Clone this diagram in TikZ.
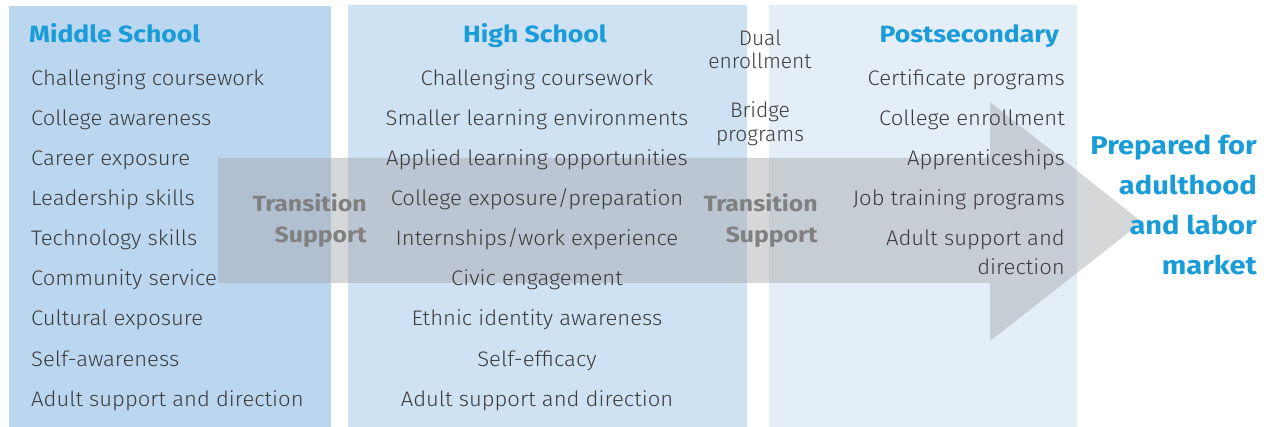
\documentclass[tikz,border=0pt]{standalone}
\usepackage{fontspec}
\setmainfont{Fira Sans}[UprightFont=* Light, BoldFont=* SemiBold, FakeStretch=1.05]
\newfontfamily\hvy{Fira Sans}[UprightFont=* Bold, FakeStretch=1.13]
\newfontfamily\lite{Fira Sans}[UprightFont=* Light]
\definecolor{pA}{HTML}{BBD7F0}
\definecolor{pB}{HTML}{CFE2F4}
\definecolor{pC}{HTML}{E4EEF9}
\definecolor{ttl}{HTML}{1A9CD8}
\definecolor{txt}{HTML}{3C3C3C}
\definecolor{trn}{HTML}{808080}
\definecolor{arr}{HTML}{A4A6AA}
\tikzset{
  item/.style={font=\fontsize{21}{24}\selectfont, text=txt, inner sep=0pt, anchor=base},
  itemL/.style={item, anchor=base west},
  itemR/.style={item, anchor=base east},
  title/.style={font=\fontsize{23.5}{28}\selectfont\hvy, text=ttl, inner sep=0pt},
  trans/.style={font=\fontsize{22}{26}\selectfont\hvy, text=trn, inner sep=0pt, anchor=base east},
  goal/.style={font=\fontsize{25.7}{30}\selectfont\hvy, text=ttl, inner sep=0pt, anchor=base east},
  small/.style={font=\fontsize{21}{23}\selectfont\lite, text=txt, inner sep=0pt, anchor=base}
}
\begin{document}
\begin{tikzpicture}[x=1pt,y=-1pt]
\useasboundingbox (0,0) rectangle (1268,427);
% panels
\fill[pA] (9,6) rectangle (331,427);
\fill[pB] (348,5) rectangle (747,427);
\fill[pC] (769,5) rectangle (1077,427);
% arrow
\fill[arr, opacity=0.45] (218,158) -- (990,158) -- (990,102) -- (1142,222) -- (990,341) -- (990,283) -- (218,283) -- cycle;
% Middle school
\node[title, anchor=base west] (ms) at (29,43) {Middle School};
\node[itemL] (m1) at (31,86) {Challenging coursework};
\node[itemL] (m2) at (31,126) {College awareness};
\node[itemL] (m3) at (31,166) {Career exposure};
\node[itemL] (m4) at (31,206) {Leadership skills};
\node[itemL] (m5) at (31,246) {Technology skills};
\node[itemL] (m6) at (31,286) {Community service};
\node[itemL] (m7) at (31,326) {Cultural exposure};
\node[itemL] (m8) at (31,366) {Self-awareness};
\node[itemL] (m9) at (31,406) {Adult support and direction};
% High school
\node[title, anchor=base] (hs) at (535,43) {High School};
\node[item] (h1) at (537,86) {Challenging coursework};
\node[item] (h2) at (537,126) {Smaller learning environments};
\node[item] (h3) at (537,166) {Applied learning opportunities};
\node[item] (h4) at (537,206) {College exposure/preparation};
\node[item] (h5) at (537,246) {Internships/work experience};
\node[item] (h6) at (537,286) {Civic engagement};
\node[item] (h7) at (537,326) {Ethnic identity awareness};
\node[item] (h8) at (537,366) {Self-efficacy};
\node[item] (h9) at (537,406) {Adult support and direction};
% Dual enrollment / bridge
\node[small] (d1) at (760,46) {Dual};
\node[small] (d2) at (760,69) {enrollment};
\node[small] (b1) at (760,118) {Bridge};
\node[small] (b2) at (760,142) {programs};
% Postsecondary
\node[title, anchor=base east] (ps) at (1059,43) {Postsecondary};
\node[itemR] (p1) at (1065,86) {Certificate programs};
\node[itemR] (p2) at (1065,126) {College enrollment};
\node[itemR] (p3) at (1065,166) {Apprenticeships};
\node[itemR] (p4) at (1065,206) {Job training programs};
\node[itemR] (p5) at (1065,246) {Adult support and};
\node[itemR] (p6) at (1065,275) {direction};
% Transition support
\node[trans] (t1) at (367,212) {Transition};
\node[trans] (t2) at (367,243) {Support};
\node[trans] (t3) at (818,212) {Transition};
\node[trans] (t4) at (818,243) {Support};
% Goal
\node[goal] (g1) at (1257,155) {Prepared for};
\node[goal] (g2) at (1257,195) {adulthood};
\node[goal] (g3) at (1257,235) {and labor};
\node[goal] (g4) at (1257,275) {market};
\end{tikzpicture}
\end{document}
